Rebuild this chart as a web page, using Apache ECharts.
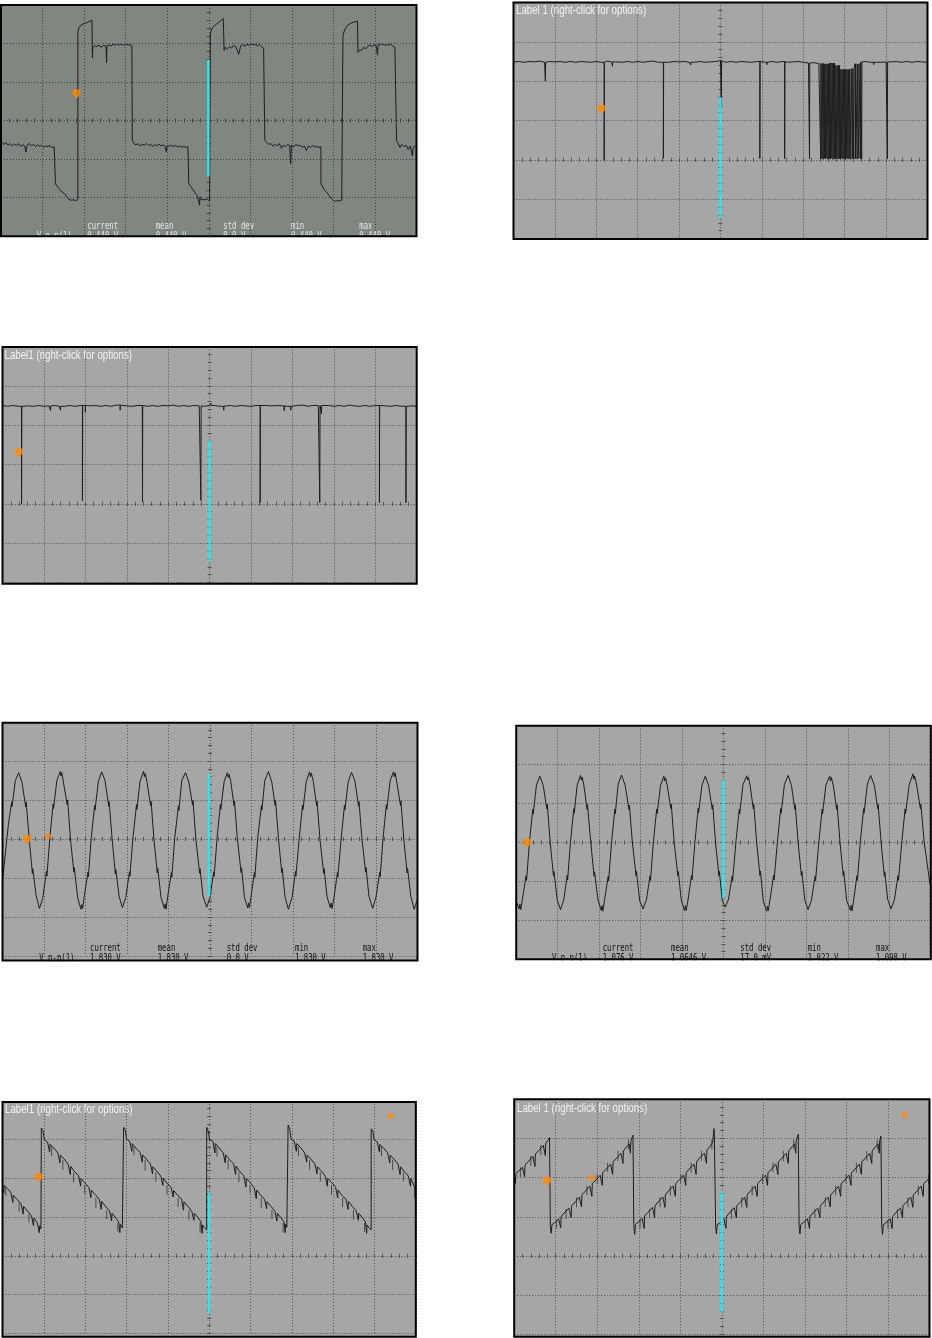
<!DOCTYPE html>
<html><head><meta charset="utf-8">
<script src="https://cdn.jsdelivr.net/npm/echarts@6/dist/echarts.min.js"></script>
<style>html,body{margin:0;padding:0;background:#fff}#c{width:932px;height:1338px}</style>
</head><body><div id="c"></div><script>
// ---------------- DATA (x, y in screen divisions) ----------------
const squareWave = [
[-4.98,-0.55],[-4.93,-0.62],[-4.88,-0.57],[-4.83,-0.64],[-4.78,-0.6],[-4.73,-0.66],[-4.68,-0.61],[-4.63,-0.65],[-4.58,-0.6],[-4.53,-0.67],[-4.48,-0.63],[-4.43,-0.66],[-4.4,-0.82],[-4.37,-0.64],[-4.32,-0.6],[-4.27,-0.66],[-4.22,-0.62],[-4.17,-0.68],[-4.12,-0.63],[-4.07,-0.67],[-4.02,-0.64],[-3.97,-0.7],[-3.92,-0.66],[-3.87,-0.68],[-3.82,-0.65],[-3.77,-0.71],[-3.72,-0.68],[-3.69,-0.7],
[-3.69,-1.64],[-3.64,-1.72],[-3.58,-1.8],[-3.53,-1.86],[-3.47,-1.9],[-3.42,-1.97],[-3.37,-2.05],[-3.32,-2.07],[-3.26,-2.06],[-3.2,-2.08],[-3.15,-2.05],
[-3.15,2.3],[-3.12,2.42],[-3.07,2.48],[-3.0,2.52],[-2.93,2.54],[-2.86,2.58],[-2.81,2.6],
[-2.8,1.62],[-2.79,1.9],[-2.74,1.94],[-2.69,1.92],[-2.64,1.96],[-2.6,1.9],[-2.53,1.95],[-2.47,1.93],[-2.46,1.5],[-2.45,1.94],[-2.4,1.97],[-2.35,1.93],[-2.3,1.99],[-2.25,1.95],[-2.2,1.98],[-2.15,1.96],[-2.1,1.99],[-2.05,1.95],[-2.0,1.98],[-1.95,1.96],[-1.9,1.97],[-1.85,1.94],
[-1.84,-0.52],[-1.8,-0.6],[-1.75,-0.63],[-1.7,-0.6],[-1.65,-0.66],[-1.6,-0.62],[-1.55,-0.64],[-1.5,-0.6],[-1.45,-0.65],[-1.4,-0.62],[-1.35,-0.67],[-1.3,-0.63],[-1.25,-0.66],[-1.2,-0.61],[-1.15,-0.66],[-1.1,-0.63],[-1.05,-0.68],[-1.02,-0.82],[-1.0,-0.65],[-0.95,-0.67],[-0.9,-0.64],[-0.85,-0.68],[-0.8,-0.65],[-0.75,-0.69],[-0.7,-0.66],[-0.65,-0.7],[-0.6,-0.67],[-0.55,-0.7],[-0.5,-0.68],[-0.48,-0.7],
[-0.48,-1.64],[-0.43,-1.72],[-0.38,-1.8],[-0.33,-1.88],[-0.28,-1.95],[-0.24,-2.0],[-0.22,-2.2],[-0.21,-1.98],[-0.18,-2.05],[-0.15,-2.1],[-0.1,-2.06],[-0.06,-2.1],[-0.03,-2.04],[0.02,-2.1],[0.04,-2.05],
[0.04,2.25],[0.07,2.38],[0.12,2.45],[0.18,2.5],[0.24,2.55],[0.3,2.6],[0.35,2.65],
[0.37,1.82],[0.4,1.9],[0.45,1.86],[0.5,1.92],[0.55,1.88],[0.6,1.95],[0.66,1.9],[0.72,1.72],[0.77,1.94],[0.82,1.97],[0.87,1.93],[0.92,1.98],[0.97,1.95],[1.02,1.99],[1.07,1.96],[1.12,1.98],[1.17,1.94],[1.22,1.97],[1.27,1.92],[1.32,1.88],[1.35,1.9],
[1.35,-0.52],[1.4,-0.58],[1.45,-0.62],[1.5,-0.6],[1.55,-0.67],[1.6,-0.62],[1.65,-0.66],[1.7,-0.6],[1.75,-0.72],[1.8,-0.64],[1.85,-0.68],[1.9,-0.62],[1.95,-0.66],[1.97,-1.13],[1.99,-0.64],[2.05,-0.68],[2.1,-0.62],[2.15,-0.66],[2.2,-0.64],[2.25,-0.7],[2.3,-0.66],[2.35,-0.78],[2.4,-0.66],[2.45,-0.7],[2.5,-0.65],[2.55,-0.69],[2.6,-0.67],[2.65,-0.7],[2.7,-0.68],
[2.7,-1.64],[2.75,-1.74],[2.8,-1.82],[2.85,-1.88],[2.9,-1.95],[2.95,-2.02],[3.0,-2.08],[3.05,-2.1],[3.1,-2.08],[3.15,-2.09],[3.2,-2.07],[3.23,-2.08],
[3.23,2.21],[3.27,2.35],[3.32,2.45],[3.38,2.5],[3.44,2.54],[3.5,2.56],[3.58,2.58],
[3.59,1.77],[3.63,1.84],[3.68,1.82],[3.73,1.9],[3.78,1.86],[3.83,1.93],[3.88,1.96],[3.93,1.92],[3.98,1.97],[4.03,1.94],[4.06,1.7],[4.08,1.98],[4.13,1.96],[4.18,1.99],[4.23,1.95],[4.28,1.97],[4.33,1.96],[4.38,1.98],[4.43,1.93],[4.48,1.9],[4.51,1.86],
[4.52,-0.52],[4.56,-0.6],[4.6,-0.7],[4.65,-0.62],[4.7,-0.68],[4.75,-0.64],[4.8,-0.75],[4.85,-0.66],[4.9,-0.92],[4.92,-0.7],[4.97,-0.66],[5.0,-0.7]
];

// baseline samples every 0.125 division from -5, plus spike list [x, tip]
const pulseBase2 = [2.49,2.5,2.48,2.5,2.49,2.51,2.48,2.5,2.49,2.5,2.48,2.5,2.48,2.5,2.49,2.48,2.5,2.48,2.51,2.49,2.49,2.48,2.5,2.48,2.5,2.48,2.5,2.51,2.48,2.49,2.48,2.5,2.49,2.5,2.48,2.48,2.5,2.48,2.49,2.5,2.52,2.48,2.5,2.48,2.5,2.49,2.48,2.5,2.48,2.49,2.5,2.48,2.5,2.48,2.49,2.5,2.48,2.46,2.47,2.45,2.44,2.46,2.4,2.3,2.3,2.32,2.44,2.49,2.5,2.48,2.5,2.48,2.49,2.49,2.5,2.48,2.5,2.48,2.5,2.49,2.48];
const pulses2 = [[-4.23,2.0],[-2.81,0.0],[-2.61,2.38],[-1.38,0.04],[-0.72,2.41],[0.02,1.32],[0.95,0.03],[1.12,2.42],[1.55,0.03],[2.15,0.02],[2.42,0.02],[2.45,0.03],[2.48,0.01],[2.51,0.04],[2.54,0.02],[2.57,0.05],[2.6,0.01],[2.63,0.03],[2.66,0.02],[2.69,0.04],[2.72,0.01],[2.75,0.03],[2.78,0.02],[2.81,0.05],[2.84,0.02],[2.87,0.03],[2.9,0.01],[2.93,0.04],[2.96,0.02],[2.99,0.03],[3.02,0.01],[3.05,0.04],[3.08,0.02],[3.11,0.03],[3.15,0.01],[3.19,0.04],[3.22,0.02],[3.26,0.03],[3.3,0.02],[3.34,0.04],[3.38,0.02],[3.41,0.03],[3.7,2.42],[4.03,0.03]];

const pulseBase3 = [2.5,2.48,2.5,2.48,2.5,2.49,2.48,2.5,2.48,2.49,2.5,2.48,2.48,2.5,2.48,2.5,2.5,2.49,2.5,2.48,2.5,2.48,2.51,2.49,2.49,2.48,2.5,2.5,2.48,2.5,2.48,2.5,2.49,2.51,2.48,2.5,2.48,2.5,2.49,2.48,2.5,2.5,2.48,2.49,2.5,2.48,2.5,2.49,2.48,2.5,2.48,2.5,2.49,2.5,2.49,2.48,2.48,2.5,2.51,2.48,2.5,2.5,2.49,2.5,2.48,2.5,2.48,2.51,2.49,2.48,2.5,2.48,2.5,2.49,2.49,2.48,2.5,2.48,2.5,2.49,2.48];
const pulses3 = [[-4.54,0.0],[-3.84,2.37],[-3.6,2.38],[-3.07,0.08],[-3.0,2.33],[-2.16,2.38],[-1.62,0.05],[-0.21,0.08],[0.03,2.56],[0.34,2.38],[1.22,0.03],[1.8,2.37],[1.96,2.38],[2.66,0.03],[2.7,2.29],[4.1,0.03],[4.74,0.03]];

const sineA = [
[-5.0,-1.1],[-4.94,-0.45],[-4.86,0.35],[-4.78,0.95],[-4.77,0.83],[-4.69,1.5],[-4.61,1.7],[-4.53,1.45],[-4.44,0.82],[-4.43,0.95],[-4.36,0.05],[-4.28,-0.88],[-4.27,-0.76],[-4.19,-1.45],
[-4.11,-1.78],[-4.03,-1.52],[-3.94,-0.82],[-3.93,-0.95],[-3.86,0.02],[-3.78,0.9],[-3.77,0.78],[-3.69,1.5],[-3.61,1.73],[-3.59,1.62],[-3.57,1.7],[-3.53,1.44],[-3.44,0.88],[-3.43,1.0],[-3.36,-0.03],[-3.28,-0.85],[-3.27,-0.73],[-3.19,-1.5],
[-3.11,-1.8],[-3.09,-1.68],[-3.07,-1.78],[-3.03,-1.47],[-2.94,-0.85],[-2.93,-0.97],[-2.86,0.04],[-2.78,0.86],[-2.77,0.74],[-2.69,1.48],[-2.61,1.72],[-2.53,1.5],[-2.44,0.84],[-2.43,0.96],[-2.36,0.02],[-2.28,-0.9],[-2.27,-0.78],[-2.19,-1.47],
[-2.11,-1.76],[-2.03,-1.5],[-1.94,-0.84],[-1.93,-0.96],[-1.86,0.0],[-1.77,0.88],[-1.76,0.76],[-1.69,1.46],[-1.6,1.74],[-1.58,1.6],[-1.56,1.68],[-1.52,1.47],[-1.43,0.85],[-1.42,0.97],[-1.35,-0.02],[-1.27,-0.87],[-1.26,-0.75],[-1.18,-1.5],
[-1.1,-1.78],[-1.08,-1.66],[-1.06,-1.8],[-1.02,-1.48],[-0.93,-0.86],[-0.92,-0.98],[-0.85,0.03],[-0.76,0.85],[-0.75,0.73],[-0.68,1.5],[-0.59,1.7],[-0.51,1.46],[-0.42,0.87],[-0.41,0.99],[-0.34,-0.01],[-0.25,-0.88],[-0.24,-0.76],[-0.17,-1.46],
[-0.08,-1.75],[0.0,-1.5],[0.09,-0.84],[0.1,-0.96],[0.17,0.02],[0.25,0.88],[0.26,0.76],[0.34,1.47],[0.42,1.7],[0.44,1.58],[0.46,1.66],[0.5,1.48],[0.58,0.85],[0.59,0.97],[0.66,0.0],[0.75,-0.86],[0.76,-0.74],[0.83,-1.5],
[0.91,-1.77],[0.93,-1.64],[0.95,-1.76],[0.99,-1.47],[1.07,-0.86],[1.08,-0.98],[1.15,0.03],[1.24,0.86],[1.25,0.74],[1.32,1.5],[1.41,1.73],[1.49,1.45],[1.57,0.86],[1.58,0.98],[1.65,0.01],[1.73,-0.87],[1.74,-0.75],[1.81,-1.5],
[1.89,-1.8],[1.98,-1.48],[2.06,-0.83],[2.07,-0.95],[2.15,0.02],[2.23,0.87],[2.24,0.75],[2.32,1.48],[2.4,1.72],[2.42,1.6],[2.44,1.69],[2.49,1.47],[2.57,0.85],[2.58,0.97],[2.65,-0.02],[2.74,-0.88],[2.75,-0.76],[2.82,-1.48],
[2.9,-1.76],[2.92,-1.64],[2.94,-1.78],[2.99,-1.5],[3.07,-0.86],[3.08,-0.98],[3.16,0.0],[3.24,0.86],[3.25,0.74],[3.33,1.46],[3.41,1.71],[3.49,1.5],[3.58,0.84],[3.59,0.96],[3.66,0.02],[3.75,-0.85],[3.76,-0.73],[3.83,-1.47],
[3.92,-1.78],[4.0,-1.49],[4.09,-0.85],[4.1,-0.97],[4.17,0.02],[4.25,0.88],[4.26,0.76],[4.34,1.49],[4.42,1.72],[4.44,1.6],[4.46,1.7],[4.5,1.46],[4.59,0.86],[4.6,0.98],[4.67,-0.01],[4.75,-0.87],[4.76,-0.75],[4.84,-1.48],
[4.92,-1.8],[5.0,-1.55]
];

const sineB = [
[-5.0,-1.5],[-4.93,-1.7],[-4.91,-1.58],[-4.89,-1.72],[-4.85,-1.45],[-4.76,-0.85],[-4.75,-0.97],[-4.68,0.02],[-4.6,0.85],[-4.59,0.73],[-4.51,1.48],[-4.43,1.7],[-4.35,1.47],[-4.26,0.86],[-4.25,0.98],[-4.18,0.0],[-4.1,-0.86],[-4.09,-0.74],[-4.01,-1.48],
[-3.93,-1.72],[-3.85,-1.46],[-3.77,-0.84],[-3.76,-0.96],[-3.69,0.02],[-3.61,0.87],[-3.6,0.75],[-3.53,1.47],[-3.45,1.72],[-3.43,1.6],[-3.41,1.68],[-3.37,1.48],[-3.29,0.85],[-3.28,0.97],[-3.2,-0.02],[-3.12,-0.87],[-3.11,-0.75],[-3.03,-1.46],
[-2.95,-1.74],[-2.93,-1.62],[-2.91,-1.76],[-2.87,-1.48],[-2.78,-0.86],[-2.77,-0.98],[-2.7,0.0],[-2.62,0.86],[-2.61,0.74],[-2.54,1.5],[-2.46,1.73],[-2.37,1.46],[-2.28,0.84],[-2.27,0.96],[-2.2,0.02],[-2.11,-0.85],[-2.1,-0.73],[-2.02,-1.5],
[-1.94,-1.7],[-1.86,-1.47],[-1.77,-0.85],[-1.76,-0.97],[-1.69,0.03],[-1.61,0.86],[-1.6,0.74],[-1.52,1.46],[-1.44,1.7],[-1.42,1.58],[-1.4,1.66],[-1.36,1.48],[-1.27,0.87],[-1.26,0.99],[-1.19,0.0],[-1.1,-0.86],[-1.09,-0.74],[-1.02,-1.47],
[-0.94,-1.75],[-0.92,-1.62],[-0.9,-1.74],[-0.86,-1.5],[-0.77,-0.84],[-0.76,-0.96],[-0.69,0.01],[-0.61,0.88],[-0.6,0.76],[-0.52,1.47],[-0.44,1.7],[-0.36,1.46],[-0.27,0.85],[-0.26,0.97],[-0.19,-0.02],[-0.11,-0.86],[-0.1,-0.74],[-0.03,-1.48],
[0.04,-1.66],[0.12,-1.46],[0.21,-0.86],[0.22,-0.98],[0.3,0.02],[0.38,0.85],[0.39,0.73],[0.47,1.48],[0.56,1.71],[0.58,1.6],[0.6,1.68],[0.64,1.47],[0.72,0.86],[0.73,0.98],[0.8,0.0],[0.88,-0.85],[0.89,-0.73],[0.96,-1.5],
[1.04,-1.76],[1.06,-1.63],[1.08,-1.75],[1.12,-1.47],[1.21,-0.84],[1.22,-0.96],[1.3,0.01],[1.38,0.87],[1.39,0.75],[1.47,1.49],[1.56,1.72],[1.64,1.46],[1.72,0.85],[1.73,0.97],[1.8,-0.01],[1.88,-0.86],[1.89,-0.74],[1.96,-1.47],
[2.04,-1.72],[2.12,-1.49],[2.21,-0.86],[2.22,-0.98],[2.3,0.02],[2.38,0.86],[2.39,0.74],[2.47,1.47],[2.56,1.7],[2.58,1.58],[2.6,1.67],[2.65,1.45],[2.73,0.85],[2.74,0.97],[2.81,0.0],[2.89,-0.86],[2.9,-0.74],[2.97,-1.48],
[3.06,-1.74],[3.08,-1.61],[3.1,-1.75],[3.14,-1.47],[3.22,-0.85],[3.23,-0.97],[3.3,0.01],[3.38,0.87],[3.39,0.75],[3.47,1.5],[3.55,1.72],[3.64,1.46],[3.72,0.86],[3.73,0.98],[3.8,0.02],[3.88,-0.87],[3.89,-0.75],[3.96,-1.46],
[4.04,-1.7],[4.12,-1.48],[4.21,-0.85],[4.22,-0.97],[4.3,0.0],[4.38,0.86],[4.39,0.74],[4.48,1.48],[4.57,1.76],[4.59,1.62],[4.61,1.7],[4.66,1.47],[4.75,0.86],[4.76,0.98],[4.84,0.02],[4.92,-0.6],[4.98,-1.08]
];

const sawDown = [
[-5.0,1.86],[-4.97,1.62],[-4.96,1.82],[-4.88,1.74],[-4.8,1.64],[-4.75,1.38],[-4.74,1.57],[-4.65,1.46],[-4.55,1.34],[-4.5,1.08],[-4.49,1.28],[-4.4,1.16],[-4.3,1.04],[-4.25,0.78],[-4.24,0.98],[-4.16,0.86],[-4.11,0.6],[-4.1,0.78],[-4.07,0.7],
[-4.06,3.3],[-4.02,3.24],[-3.99,3.0],[-3.91,2.94],[-3.86,2.68],[-3.85,2.88],[-3.76,2.79],[-3.66,2.66],[-3.61,2.4],[-3.6,2.6],[-3.51,2.51],[-3.41,2.36],[-3.36,2.1],[-3.35,2.31],[-3.26,2.18],[-3.16,2.07],[-3.11,1.8],[-3.1,2.0],[-3.01,1.89],[-2.91,1.76],[-2.86,1.5],[-2.85,1.7],[-2.76,1.59],[-2.66,1.46],[-2.61,1.2],[-2.6,1.41],[-2.51,1.28],[-2.41,1.16],[-2.36,0.9],[-2.35,1.1],[-2.26,0.98],[-2.19,0.88],[-2.16,0.6],[-2.15,0.82],[-2.1,0.72],[-2.07,0.68],
[-2.07,3.32],[-2.03,3.25],[-2.0,3.02],[-1.92,2.95],[-1.87,2.7],[-1.86,2.9],[-1.77,2.78],[-1.67,2.67],[-1.62,2.42],[-1.61,2.61],[-1.52,2.5],[-1.42,2.37],[-1.37,2.12],[-1.36,2.3],[-1.27,2.19],[-1.17,2.06],[-1.12,1.82],[-1.11,2.01],[-1.02,1.88],[-0.92,1.77],[-0.87,1.52],[-0.86,1.69],[-0.77,1.58],[-0.67,1.47],[-0.62,1.18],[-0.61,1.4],[-0.52,1.29],[-0.42,1.15],[-0.37,0.92],[-0.36,1.1],[-0.27,0.99],[-0.2,0.88],[-0.17,0.58],[-0.16,0.8],[-0.11,0.72],[-0.06,0.67],
[-0.06,3.32],[-0.02,3.22],[0.01,3.0],[0.09,2.96],[0.14,2.66],[0.15,2.9],[0.24,2.79],[0.34,2.66],[0.39,2.4],[0.4,2.61],[0.49,2.49],[0.59,2.38],[0.64,2.1],[0.65,2.32],[0.74,2.18],[0.84,2.07],[0.89,1.78],[0.9,2.0],[0.99,1.9],[1.09,1.76],[1.14,1.48],[1.15,1.7],[1.24,1.58],[1.34,1.46],[1.39,1.22],[1.4,1.4],[1.49,1.29],[1.59,1.15],[1.64,0.9],[1.65,1.1],[1.74,0.98],[1.81,0.88],[1.84,0.6],[1.85,0.82],[1.88,0.74],[1.91,0.69],
[1.91,3.38],[1.95,3.28],[1.98,3.02],[2.06,2.96],[2.11,2.7],[2.12,2.9],[2.21,2.8],[2.31,2.66],[2.36,2.42],[2.37,2.6],[2.46,2.5],[2.56,2.37],[2.61,2.12],[2.62,2.3],[2.71,2.2],[2.81,2.06],[2.86,1.8],[2.87,2.0],[2.96,1.9],[3.06,1.77],[3.11,1.5],[3.12,1.7],[3.21,1.57],[3.31,1.46],[3.36,1.2],[3.37,1.41],[3.46,1.28],[3.56,1.16],[3.61,0.92],[3.62,1.1],[3.71,0.98],[3.78,0.88],[3.81,0.58],[3.82,0.8],[3.87,0.72],[3.92,0.67],
[3.92,3.28],[3.96,3.22],[3.99,3.0],[4.07,2.94],[4.12,2.68],[4.13,2.88],[4.22,2.78],[4.32,2.66],[4.37,2.4],[4.38,2.6],[4.47,2.5],[4.57,2.37],[4.62,2.1],[4.63,2.3],[4.72,2.18],[4.82,2.06],[4.87,1.8],[4.88,2.0],[4.94,1.86],[4.98,1.74],[5.0,1.72]
];
// extra noise hairs on the falling ramp [x, top, bottom]
const hairsDown = [
[-4.92,1.78,1.55],[-4.6,1.38,1.14],[-4.36,1.08,0.86],
[-3.81,2.82,2.58],[-3.54,2.48,2.22],[-3.28,2.16,1.9],[-3.01,1.83,1.6],[-2.74,1.5,1.24],[-2.48,1.18,0.94],[-2.21,0.85,0.62],
[-1.82,2.82,2.6],[-1.55,2.48,2.2],[-1.29,2.16,1.92],[-1.02,1.83,1.58],[-0.75,1.5,1.26],[-0.49,1.18,0.92],[-0.22,0.85,0.6],
[0.19,2.82,2.56],[0.46,2.48,2.24],[0.72,2.16,1.9],[0.99,1.83,1.62],[1.26,1.5,1.24],[1.52,1.18,0.95],[1.79,0.85,0.6],
[2.16,2.82,2.58],[2.43,2.48,2.22],[2.69,2.16,1.92],[2.96,1.83,1.58],[3.23,1.5,1.26],[3.49,1.18,0.94],[3.76,0.85,0.62],
[4.17,2.82,2.58],[4.44,2.48,2.22],[4.7,2.16,1.92],[4.97,1.75,1.5]
];

const sawUp = [
[-5.0,2.06],[-4.97,1.85],[-4.96,2.1],[-4.88,2.18],[-4.8,2.26],[-4.75,2.02],[-4.74,2.32],[-4.65,2.42],[-4.55,2.54],[-4.5,2.28],[-4.49,2.6],[-4.4,2.7],[-4.3,2.82],[-4.25,2.56],[-4.24,2.88],[-4.18,2.96],[-4.15,3.02],[-4.14,2.98],
[-4.13,0.75],[-4.11,0.58],[-4.09,0.8],[-4.03,0.84],[-3.93,0.95],[-3.88,0.72],[-3.87,1.0],[-3.78,1.12],[-3.68,1.22],[-3.63,0.98],[-3.62,1.27],[-3.53,1.38],[-3.43,1.5],[-3.38,1.25],[-3.37,1.56],[-3.28,1.66],[-3.18,1.78],[-3.13,1.52],[-3.12,1.84],[-3.03,1.94],[-2.93,2.06],[-2.88,1.8],[-2.87,2.12],[-2.78,2.22],[-2.68,2.34],[-2.63,2.08],[-2.62,2.4],[-2.53,2.5],[-2.43,2.62],[-2.38,2.36],[-2.37,2.68],[-2.28,2.8],[-2.23,2.86],[-2.2,2.62],[-2.19,2.94],[-2.14,3.08],[-2.13,3.04],
[-2.12,0.78],[-2.1,0.55],[-2.08,0.8],[-2.02,0.86],[-1.92,0.96],[-1.87,0.7],[-1.86,1.02],[-1.77,1.12],[-1.67,1.24],[-1.62,0.98],[-1.61,1.28],[-1.52,1.4],[-1.42,1.5],[-1.37,1.24],[-1.36,1.56],[-1.27,1.68],[-1.17,1.78],[-1.12,1.52],[-1.11,1.85],[-1.02,1.95],[-0.92,2.06],[-0.87,1.8],[-0.86,2.12],[-0.77,2.24],[-0.67,2.34],[-0.62,2.08],[-0.61,2.4],[-0.52,2.52],[-0.42,2.62],[-0.37,2.36],[-0.36,2.7],[-0.27,2.82],[-0.22,2.9],[-0.19,3.25],[-0.18,3.1],[-0.16,3.06],
[-0.15,0.74],[-0.13,0.56],[-0.11,0.8],[-0.05,0.84],[0.05,0.95],[0.1,0.7],[0.11,1.0],[0.2,1.12],[0.3,1.23],[0.35,0.97],[0.36,1.28],[0.45,1.38],[0.55,1.5],[0.6,1.24],[0.61,1.56],[0.7,1.67],[0.8,1.78],[0.85,1.52],[0.86,1.84],[0.95,1.95],[1.05,2.06],[1.1,1.8],[1.11,2.12],[1.2,2.22],[1.3,2.34],[1.35,2.08],[1.36,2.4],[1.45,2.5],[1.55,2.62],[1.6,2.36],[1.61,2.68],[1.7,2.8],[1.75,2.86],[1.78,2.62],[1.79,2.94],[1.84,3.1],[1.85,3.06],
[1.86,0.76],[1.88,0.56],[1.9,0.8],[1.96,0.85],[2.06,0.95],[2.11,0.7],[2.12,1.0],[2.21,1.12],[2.31,1.22],[2.36,0.98],[2.37,1.27],[2.46,1.38],[2.56,1.5],[2.61,1.25],[2.62,1.56],[2.71,1.66],[2.81,1.78],[2.86,1.52],[2.87,1.84],[2.96,1.94],[3.06,2.06],[3.11,1.8],[3.12,2.12],[3.21,2.22],[3.31,2.34],[3.36,2.08],[3.37,2.4],[3.46,2.5],[3.56,2.62],[3.61,2.36],[3.62,2.68],[3.71,2.8],[3.76,2.86],[3.79,2.62],[3.8,2.94],[3.83,3.06],[3.84,3.04],
[3.85,0.76],[3.87,0.55],[3.89,0.8],[3.95,0.84],[4.05,0.95],[4.1,0.7],[4.11,1.0],[4.2,1.12],[4.3,1.22],[4.35,0.97],[4.36,1.28],[4.45,1.38],[4.55,1.5],[4.6,1.24],[4.61,1.56],[4.7,1.66],[4.8,1.78],[4.85,1.52],[4.86,1.84],[4.95,1.94],[5.0,2.0]
];
const hairsUp = [
[-4.85,2.26,2.02],[-4.6,2.55,2.3],[-4.36,2.83,2.58],
[-3.98,0.92,0.7],[-3.75,1.2,0.95],[-3.5,1.5,1.24],[-3.25,1.79,1.55],[-3.0,2.09,1.84],[-2.75,2.38,2.14],[-2.5,2.68,2.42],[-2.25,2.97,2.72],
[-1.97,0.92,0.7],[-1.74,1.2,0.96],[-1.49,1.5,1.25],[-1.24,1.79,1.54],[-0.99,2.09,1.85],[-0.74,2.38,2.13],[-0.49,2.68,2.43],[-0.24,2.97,2.72],
[0.0,0.92,0.7],[0.23,1.2,0.95],[0.48,1.5,1.24],[0.73,1.79,1.55],[0.98,2.09,1.84],[1.23,2.38,2.14],[1.48,2.68,2.42],[1.73,2.97,2.72],
[2.01,0.92,0.7],[2.24,1.2,0.96],[2.49,1.5,1.25],[2.74,1.79,1.54],[2.99,2.09,1.85],[3.24,2.38,2.13],[3.49,2.68,2.43],[3.74,2.97,2.72],
[4.0,0.92,0.7],[4.23,1.2,0.95],[4.48,1.5,1.24],[4.73,1.79,1.55],[4.98,2.09,1.84]
];

// cursor lines [x, yTop, yBottom]
const cursorLines = [[-0.01,1.58,-1.45],[0.0,1.59,-1.47],[0.0,1.61,-1.46],[-0.02,1.67,-1.47],[0.0,1.6,-1.42],[0.0,1.63,-1.49],[0.0,1.65,-1.44]];
// orange markers
const pentMarkers = [[[-3.18,0.69]],[[-2.87,1.28]],[[-4.6,1.29]],[[-4.4,-0.02]],[[-4.73,-0.02]],[[-4.12,2.02]],[[-4.2,1.9]]];
const triMarkers = [[],[],[],[[-3.9,0.03]],[],[[4.4,3.58]],[[-3.13,1.96],[4.41,3.57]]];

const statNames = ['current','mean','std dev','min','max'];
const measName = 'V p-p(1)';
const statsPanel1 = ['0.440 V','0.440 V','0.0 V','0.440 V','0.440 V'];
const statsPanel4 = ['1.830 V','1.830 V','0.0 V','1.830 V','1.830 V'];
const statsPanel5 = ['1.076 V','1.0646 V','17.0 mV','1.022 V','1.098 V'];
const labelText1 = 'Label 1 (right-click for options)';
const labelText2 = 'Label1 (right-click for options)';

// ---------------- helpers ----------------
function pulseTrace(baseY, pulses) {
  const pts = []; let j = 0;
  baseY.forEach(function (y, i) {
    const x = -5 + i * 0.125;
    while (j < pulses.length && pulses[j][0] <= x) {
      const px = pulses[j][0], low = pulses[j][1];
      const top = pts.length ? pts[pts.length - 1][1] : y;
      pts.push([px, top], [px, low], [px + 0.006, low], [px + 0.006, top]);
      j++;
    }
    pts.push([x, y]);
  });
  return pts;
}

const traces = [squareWave, pulseTrace(pulseBase2, pulses2), pulseTrace(pulseBase3, pulses3), sineA, sineB, sawDown, sawUp];
const hairs = [null, null, null, null, null, hairsDown, hairsUp];

// ---------------- layout ----------------
const layout = [
  {g:[1,5,415.5,231], b:[1,5,415.5,231.3], y:[-3,3], bg:'#808680', gc:'#3c423d'},
  {g:[513.5,2.5,414,236], b:[513.5,2.5,414,236.5], y:[-2,4], bg:'#a6a6a6', gc:'#505050'},
  {g:[2.5,346.5,414.2,236], b:[2.5,347,414.2,236.8], y:[-2,4], bg:'#a6a6a6', gc:'#505050'},
  {g:[2.5,722,415,234], b:[2.5,722.8,415,237.7], y:[-3,3], bg:'#a6a6a6', gc:'#505050'},
  {g:[516.2,725.5,414.6,234], b:[516.2,725.8,414.6,233.4], y:[-3,3], bg:'#a6a6a6', gc:'#505050'},
  {g:[2.5,1101,413.3,232.3], b:[2.5,1102,413.3,234.7], y:[-2,4], bg:'#a6a6a6', gc:'#505050'},
  {g:[514.2,1099.2,415.3,235.1], b:[514.2,1099.2,415.3,237.5], y:[-2,4], bg:'#a6a6a6', gc:'#505050'}
];

const PENT = 'path://M0,0 L10,0 L10,5 L5,10 L0,5 Z';
const TRI = 'path://M0,0 L10,0 L5,9 Z';

const grids = [], xAxes = [], yAxes = [], series = [], elements = [];
layout.forEach(function (p, i) {
  grids.push({left:p.g[0], top:p.g[1], width:p.g[2], height:p.g[3], show:false, containLabel:false});
  const split = {show:true, lineStyle:{color:p.gc, width:1, type:[1,2]}};
  const tick = {show:true, length:2, lineStyle:{color:p.gc, width:1}};
  const minor = {show:true, splitNumber:5, length:2, lineStyle:{color:p.gc, width:1}};
  const common = {gridIndex:i, type:'value', interval:1, axisLabel:{show:false}, axisTick:tick, minorTick:minor, silent:true};
  xAxes.push(Object.assign({}, common, {min:-5, max:5, position:'bottom', splitLine:split, axisLine:{show:false, onZero:true, onZeroAxisIndex:2*i}}));
  xAxes.push(Object.assign({}, common, {min:-5, max:5, position:'top', splitLine:{show:false}, axisLine:{show:false, onZero:true, onZeroAxisIndex:2*i}}));
  yAxes.push(Object.assign({}, common, {min:p.y[0], max:p.y[1], position:'left', splitLine:split, axisLine:{show:false, onZero:true, onZeroAxisIndex:2*i}}));
  yAxes.push(Object.assign({}, common, {min:p.y[0], max:p.y[1], position:'right', splitLine:{show:false}, axisLine:{show:false, onZero:true, onZeroAxisIndex:2*i}}));
  const ax = {xAxisIndex:2*i, yAxisIndex:2*i};
  if (hairs[i]) series.push(Object.assign({type:'custom', data:hairs[i], silent:true, z:3, encode:{x:0, y:[1,2]},
    renderItem:function (params, api) {
      const a = api.coord([api.value(0), api.value(1)]);
      const b = api.coord([api.value(0), api.value(2)]);
      return {type:'line', shape:{x1:a[0], y1:a[1], x2:b[0], y2:b[1]}, style:{stroke:'#4b4b4b', lineWidth:1}};
    }}, ax));
  series.push(Object.assign({type:'line', data:traces[i], symbol:'none', silent:true, z:3,
    lineStyle:{color:'#1e1e1e', width:1}}, ax));
  const c = cursorLines[i];
  series.push(Object.assign({type:'line', data:[[c[0],c[1]],[c[0],c[2]]], symbol:'none', silent:true, z:4,
    lineStyle:{color:'#2fe3ea', width:2.5}}, ax));
  series.push(Object.assign({type:'scatter', data:pentMarkers[i], symbol:PENT, symbolSize:[8,9], silent:true, z:5,
    itemStyle:{color:'#ff8a00'}}, ax));
  if (triMarkers[i].length) series.push(Object.assign({type:'scatter', data:triMarkers[i], symbol:TRI, symbolSize:[8,7], silent:true, z:5,
    itemStyle:{color:'#ff8a00'}}, ax));
  elements.push({type:'rect', z:-10, silent:true, shape:{x:p.b[0], y:p.b[1], width:p.b[2], height:p.b[3]}, style:{fill:p.bg}});
  elements.push({type:'rect', z:100, silent:true, shape:{x:p.b[0], y:p.b[1], width:p.b[2], height:p.b[3]}, style:{fill:null, stroke:'#000', lineWidth:2}});
});

function txt(s, x, y, font, fill, sx) {
  elements.push({type:'text', x:x, y:y, scaleX:sx, z:50, silent:true,
    style:{text:s, font:font, fill:fill, align:'left', verticalAlign:'middle', textAlign:'left', textVerticalAlign:'middle'}});
}
const MONO = '10px "DejaVu Sans Mono"';
function stats(xs, labelX, y1, vals, fill) {
  statNames.forEach(function (n, k) { txt(n, xs[k], y1, MONO, fill, 0.73); });
  txt(measName, labelX, y1 + 10, MONO, fill, 0.73);
  vals.forEach(function (v, k) { txt(v, xs[k], y1 + 10, MONO, fill, 0.73); });
}
stats([87.3,155.7,223.3,291,359.3], 36.7, 226.5, statsPanel1, '#e4e6e4');
stats([90,157.7,226.7,295,362.7], 39.3, 948.3, statsPanel4, '#111');
stats([602.7,671,740.3,807.7,876], 552, 948.7, statsPanel5, '#111');

const LBL = '12px "Liberation Sans"';
txt(labelText1, 516, 10.5, LBL, '#f2f2f2', 0.81);
txt(labelText2, 4.5, 356, LBL, '#f2f2f2', 0.81);
txt(labelText2, 5, 1109.5, LBL, '#f2f2f2', 0.81);
txt(labelText1, 517, 1108.5, LBL, '#f2f2f2', 0.81);

elements.push({type:'rect', z:90, silent:true, shape:{x:0, y:237.3, width:440, height:14}, style:{fill:'#fff'}});
elements.push({type:'rect', z:90, silent:true, shape:{x:0, y:961.5, width:440, height:14}, style:{fill:'#fff'}});
elements.push({type:'rect', z:90, silent:true, shape:{x:505, y:960.3, width:427, height:14}, style:{fill:'#fff'}});

const chart = echarts.init(document.getElementById('c'), null, {renderer:'canvas', width:932, height:1338});
chart.setOption({animation:false, backgroundColor:'#fff', grid:grids, xAxis:xAxes, yAxis:yAxes, series:series, graphic:{elements:elements}});
</script></body></html>
